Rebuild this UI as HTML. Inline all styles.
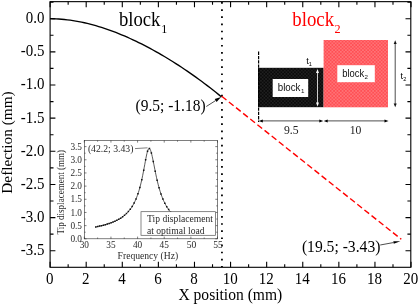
<!DOCTYPE html>
<html lang="en"><head><meta charset="utf-8"><title>Deflection plot</title>
<style>html,body{margin:0;padding:0;background:#fff;}body{width:420px;height:305px;overflow:hidden;}svg{display:block;filter:blur(0.35px);}.s{font-family:"Liberation Serif","DejaVu Serif",serif;}.a{font-family:"Liberation Sans","DejaVu Sans",sans-serif;}</style></head><body>
<svg width="420" height="305" viewBox="0 0 420 305">
<rect width="420" height="305" fill="#fff"/>
<defs><pattern id="hr" width="3.4" height="3.4" patternUnits="userSpaceOnUse"><rect width="3.4" height="3.4" fill="#ff4f54"/><rect x="0.3" y="0.3" width="1.1" height="1.1" fill="#ffa3a5"/><rect x="2" y="2" width="1.1" height="1.1" fill="#ffa3a5"/></pattern><pattern id="hb" width="3.4" height="3.4" patternUnits="userSpaceOnUse"><rect width="3.4" height="3.4" fill="#0a0a0a"/><rect x="0.3" y="0.3" width="1.1" height="1.1" fill="#3a3a3a"/><rect x="2" y="2" width="1.1" height="1.1" fill="#3a3a3a"/></pattern></defs>
<rect x="258.0" y="67.8" width="65.60" height="39.40" fill="url(#hb)"/>
<rect x="323.6" y="40.0" width="64.40" height="67.30" fill="url(#hr)"/>
<rect x="272.7" y="79" width="35.5" height="18" fill="#fff"/>
<rect x="337.3" y="65.2" width="37.5" height="17" fill="#fff"/>
<text class="a" font-size="10.2" fill="#111" textLength="22.7" lengthAdjust="spacingAndGlyphs" x="277.8" y="91.3">block</text>
<text class="a" font-size="6.2" fill="#111" x="301.0" y="93.0">1</text>
<text class="a" font-size="10.2" fill="#111" textLength="22.0" lengthAdjust="spacingAndGlyphs" x="342.2" y="77.3">block</text>
<text class="a" font-size="6.2" fill="#111" x="364.6" y="79.0">2</text>
<line x1="258.6" y1="51.6" x2="258.6" y2="122" stroke="#000" stroke-width="1.2" stroke-dasharray="3.3 1"/>
<line x1="261.8" y1="120.9" x2="320.3" y2="120.9" stroke="#000" stroke-width="0.7"/>
<path d="M258.8 120.9L262.8 119.4L262.8 122.4Z" fill="#000"/>
<path d="M323.3 120.9L319.3 119.4L319.3 122.4Z" fill="#000"/>
<line x1="326.7" y1="120.9" x2="385.5" y2="120.9" stroke="#000" stroke-width="0.7"/>
<path d="M323.7 120.9L327.7 119.4L327.7 122.4Z" fill="#000"/>
<path d="M388.5 120.9L384.5 119.4L384.5 122.4Z" fill="#000"/>
<line x1="317.5" y1="72" x2="317.5" y2="103.5" stroke="#fff" stroke-width="0.8"/>
<path d="M317.5 69L316.0 73L319.0 73Z" fill="#fff"/>
<path d="M317.5 106.5L316.0 102.5L319.0 102.5Z" fill="#fff"/>
<line x1="395.2" y1="43.0" x2="395.2" y2="104.4" stroke="#111" stroke-width="0.75"/>
<path d="M395.2 40.2L393.7 44.0L396.7 44.0Z" fill="#111"/>
<path d="M395.2 107.2L393.7 103.4L396.7 103.4Z" fill="#111"/>
<text class="s" font-size="11.7" fill="#222" text-anchor="middle" x="291.2" y="134.1">9.5</text>
<text class="s" font-size="11.7" fill="#222" text-anchor="middle" x="355.5" y="134.1">10</text>
<text class="a" x="306.3" y="64" font-size="9.2" fill="#000">t<tspan font-size="5.6" dy="1.5">1</tspan></text>
<text class="a" x="400.6" y="79" font-size="9.2" fill="#000">t<tspan font-size="5.6" dy="1.5">2</tspan></text>
<line x1="221.95" y1="2.11" x2="221.95" y2="267" stroke="#000" stroke-width="1.8" stroke-dasharray="1.7 5.43"/>
<rect x="50.1" y="1.65" width="360.70" height="265.65" fill="none" stroke="#000" stroke-width="1.1"/>
<path d="M50.1 2.12h3.4M410.8 2.12h-3.4M50.1 18.70h5.3M410.8 18.70h-5.3M50.1 35.27h3.4M410.8 35.27h-3.4M50.1 51.85h5.3M410.8 51.85h-5.3M50.1 68.42h3.4M410.8 68.42h-3.4M50.1 85.00h5.3M410.8 85.00h-5.3M50.1 101.58h3.4M410.8 101.58h-3.4M50.1 118.15h5.3M410.8 118.15h-5.3M50.1 134.72h3.4M410.8 134.72h-3.4M50.1 151.30h5.3M410.8 151.30h-5.3M50.1 167.87h3.4M410.8 167.87h-3.4M50.1 184.45h5.3M410.8 184.45h-5.3M50.1 201.02h3.4M410.8 201.02h-3.4M50.1 217.60h5.3M410.8 217.60h-5.3M50.1 234.17h3.4M410.8 234.17h-3.4M50.1 250.75h5.3M410.8 250.75h-5.3M50.10 267.3v-5.6M50.10 1.65v5.6M68.15 267.3v-3.0M68.15 1.65v3.0M86.19 267.3v-5.6M86.19 1.65v5.6M104.24 267.3v-3.0M104.24 1.65v3.0M122.29 267.3v-5.6M122.29 1.65v5.6M140.34 267.3v-3.0M140.34 1.65v3.0M158.38 267.3v-5.6M158.38 1.65v5.6M176.43 267.3v-3.0M176.43 1.65v3.0M194.48 267.3v-5.6M194.48 1.65v5.6M212.52 267.3v-3.0M212.52 1.65v3.0M230.57 267.3v-5.6M230.57 1.65v5.6M248.62 267.3v-3.0M248.62 1.65v3.0M266.66 267.3v-5.6M266.66 1.65v5.6M284.71 267.3v-3.0M284.71 1.65v3.0M302.76 267.3v-5.6M302.76 1.65v5.6M320.81 267.3v-3.0M320.81 1.65v3.0M338.85 267.3v-5.6M338.85 1.65v5.6M356.90 267.3v-3.0M356.90 1.65v3.0M374.95 267.3v-5.6M374.95 1.65v5.6M392.99 267.3v-3.0M392.99 1.65v3.0M411.04 267.3v-5.6M411.04 1.65v5.6" stroke="#000" stroke-width="1.1" fill="none"/>
<text class="s" font-size="15.8" textLength="18.6" lengthAdjust="spacingAndGlyphs" x="25.8" y="23.1">0.0</text>
<text class="s" font-size="15.8" textLength="23.6" lengthAdjust="spacingAndGlyphs" x="20.8" y="56.25">-0.5</text>
<text class="s" font-size="15.8" textLength="23.6" lengthAdjust="spacingAndGlyphs" x="20.8" y="89.4">-1.0</text>
<text class="s" font-size="15.8" textLength="23.6" lengthAdjust="spacingAndGlyphs" x="20.8" y="122.55">-1.5</text>
<text class="s" font-size="15.8" textLength="23.6" lengthAdjust="spacingAndGlyphs" x="20.8" y="155.7">-2.0</text>
<text class="s" font-size="15.8" textLength="23.6" lengthAdjust="spacingAndGlyphs" x="20.8" y="188.85">-2.5</text>
<text class="s" font-size="15.8" textLength="23.6" lengthAdjust="spacingAndGlyphs" x="20.8" y="222.0">-3.0</text>
<text class="s" font-size="15.8" textLength="23.6" lengthAdjust="spacingAndGlyphs" x="20.8" y="255.15">-3.5</text>
<text class="s" font-size="16" textLength="7.5" lengthAdjust="spacingAndGlyphs" x="45.95" y="284.4">0</text>
<text class="s" font-size="16" textLength="7.5" lengthAdjust="spacingAndGlyphs" x="82.04" y="284.4">2</text>
<text class="s" font-size="16" textLength="7.5" lengthAdjust="spacingAndGlyphs" x="118.14" y="284.4">4</text>
<text class="s" font-size="16" textLength="7.5" lengthAdjust="spacingAndGlyphs" x="154.23" y="284.4">6</text>
<text class="s" font-size="16" textLength="7.5" lengthAdjust="spacingAndGlyphs" x="190.33" y="284.4">8</text>
<text class="s" font-size="16" textLength="15.0" lengthAdjust="spacingAndGlyphs" x="222.67" y="284.4">10</text>
<text class="s" font-size="16" textLength="15.0" lengthAdjust="spacingAndGlyphs" x="258.76" y="284.4">12</text>
<text class="s" font-size="16" textLength="15.0" lengthAdjust="spacingAndGlyphs" x="294.86" y="284.4">14</text>
<text class="s" font-size="16" textLength="15.0" lengthAdjust="spacingAndGlyphs" x="330.95" y="284.4">16</text>
<text class="s" font-size="16" textLength="15.0" lengthAdjust="spacingAndGlyphs" x="367.05" y="284.4">18</text>
<text class="s" font-size="16" textLength="15.0" lengthAdjust="spacingAndGlyphs" x="403.14" y="284.4">20</text>
<text class="s" font-size="16" textLength="103.8" lengthAdjust="spacingAndGlyphs" x="178.45" y="299.5">X position (mm)</text>
<text class="s" font-size="15.3" text-anchor="middle" transform="translate(11.9,142.5) rotate(-90)">Deflection (mm)</text>
<text class="s" font-size="21.5" textLength="41.5" lengthAdjust="spacingAndGlyphs" x="118.9" y="26.3">block</text>
<text class="s" font-size="12.2" x="161.2" y="32.5">1</text>
<text class="s" font-size="21.5" fill="#f00" textLength="41.8" lengthAdjust="spacingAndGlyphs" x="292.3" y="25.9">block</text>
<text class="s" font-size="12.2" fill="#f00" x="334.6" y="32.5">2</text>
<path d="M50.10 18.70 L52.96 18.74 L55.81 18.84 L58.67 19.00 L61.53 19.21 L64.39 19.48 L67.24 19.80 L70.10 20.17 L72.96 20.59 L75.82 21.07 L78.67 21.59 L81.53 22.16 L84.39 22.78 L87.25 23.44 L90.10 24.16 L92.96 24.91 L95.82 25.71 L98.68 26.56 L101.53 27.44 L104.39 28.37 L107.25 29.34 L110.11 30.35 L112.96 31.40 L115.82 32.49 L118.68 33.62 L121.54 34.78 L124.39 35.99 L127.25 37.23 L130.11 38.50 L132.97 39.82 L135.82 41.17 L138.68 42.55 L141.54 43.97 L144.40 45.42 L147.25 46.90 L150.11 48.42 L152.97 49.98 L155.83 51.56 L158.68 53.18 L161.54 54.83 L164.40 56.52 L167.26 58.23 L170.11 59.98 L172.97 61.76 L175.83 63.58 L178.68 65.42 L181.54 67.30 L184.40 69.21 L187.26 71.15 L190.11 73.12 L192.97 75.12 L195.83 77.16 L198.69 79.23 L201.54 81.33 L204.40 83.46 L207.26 85.63 L210.12 87.83 L212.97 90.06 L215.83 92.32 L218.69 94.62 L221.55 96.96" fill="none" stroke="#000" stroke-width="1.35"/>
<line x1="221.75" y1="96.3" x2="401.3" y2="239.3" stroke="#f00" stroke-width="1.4" stroke-dasharray="6 3.12"/>
<text class="s" font-size="16.6" textLength="70.1" lengthAdjust="spacingAndGlyphs" x="135.5" y="111.3">(9.5; -1.18)</text>
<text class="s" font-size="16.6" textLength="78.5" lengthAdjust="spacingAndGlyphs" x="301.9" y="251.9">(19.5; -3.43)</text>
<line x1="206.30" y1="106.50" x2="215.63" y2="100.55" stroke="#000" stroke-width="0.7"/>
<path d="M221.20 97.00L216.55 101.98L214.72 99.11Z" fill="#000"/>
<line x1="380.20" y1="245.00" x2="393.51" y2="242.56" stroke="#000" stroke-width="0.7"/>
<path d="M400.40 241.30L393.74 243.79L393.29 241.33Z" fill="#000"/>
<rect x="84.3" y="140.4" width="133.20" height="98.40" fill="#fff" stroke="#2a2a2a" stroke-width="0.6"/>
<path d="M84.3 238.80h2.2M217.5 238.80h-2.2M84.3 232.21h1.3M217.5 232.21h-1.3M84.3 225.63h2.2M217.5 225.63h-2.2M84.3 219.04h1.3M217.5 219.04h-1.3M84.3 212.46h2.2M217.5 212.46h-2.2M84.3 205.87h1.3M217.5 205.87h-1.3M84.3 199.29h2.2M217.5 199.29h-2.2M84.3 192.70h1.3M217.5 192.70h-1.3M84.3 186.11h2.2M217.5 186.11h-2.2M84.3 179.53h1.3M217.5 179.53h-1.3M84.3 172.94h2.2M217.5 172.94h-2.2M84.3 166.36h1.3M217.5 166.36h-1.3M84.3 159.77h2.2M217.5 159.77h-2.2M84.3 153.19h1.3M217.5 153.19h-1.3M84.3 146.60h2.2M217.5 146.60h-2.2M84.30 238.8v-2.2M84.30 140.4v2.2M97.62 238.8v-1.3M97.62 140.4v1.3M110.94 238.8v-2.2M110.94 140.4v2.2M124.26 238.8v-1.3M124.26 140.4v1.3M137.58 238.8v-2.2M137.58 140.4v2.2M150.90 238.8v-1.3M150.90 140.4v1.3M164.22 238.8v-2.2M164.22 140.4v2.2M177.54 238.8v-1.3M177.54 140.4v1.3M190.86 238.8v-2.2M190.86 140.4v2.2M204.18 238.8v-1.3M204.18 140.4v1.3M217.50 238.8v-2.2M217.50 140.4v2.2" stroke="#2a2a2a" stroke-width="0.6" fill="none"/>
<text class="s" x="82" y="242.00" font-size="9.3" fill="#2a2a2a" text-anchor="end">0.0</text>
<text class="s" x="82" y="228.83" font-size="9.3" fill="#2a2a2a" text-anchor="end">0.5</text>
<text class="s" x="82" y="215.66" font-size="9.3" fill="#2a2a2a" text-anchor="end">1.0</text>
<text class="s" x="82" y="202.49" font-size="9.3" fill="#2a2a2a" text-anchor="end">1.5</text>
<text class="s" x="82" y="189.31" font-size="9.3" fill="#2a2a2a" text-anchor="end">2.0</text>
<text class="s" x="82" y="176.14" font-size="9.3" fill="#2a2a2a" text-anchor="end">2.5</text>
<text class="s" x="82" y="162.97" font-size="9.3" fill="#2a2a2a" text-anchor="end">3.0</text>
<text class="s" x="82" y="149.80" font-size="9.3" fill="#2a2a2a" text-anchor="end">3.5</text>
<text class="s" x="84.30" y="248.2" font-size="9.3" fill="#2a2a2a" text-anchor="middle">30</text>
<text class="s" x="110.94" y="248.2" font-size="9.3" fill="#2a2a2a" text-anchor="middle">35</text>
<text class="s" x="137.58" y="248.2" font-size="9.3" fill="#2a2a2a" text-anchor="middle">40</text>
<text class="s" x="164.22" y="248.2" font-size="9.3" fill="#2a2a2a" text-anchor="middle">45</text>
<text class="s" x="191.46" y="248.2" font-size="9.6" fill="#2a2a2a" text-anchor="middle">50</text>
<text class="s" x="218.10" y="248.2" font-size="9.6" fill="#2a2a2a" text-anchor="middle">55</text>
<text class="s" font-size="10" fill="#2a2a2a" textLength="60.6" lengthAdjust="spacingAndGlyphs" x="117.6" y="259.4">Frequency (Hz)</text>
<text class="s" font-size="9.3" fill="#2a2a2a" textLength="84.4" lengthAdjust="spacingAndGlyphs" transform="translate(64.3,234.4) rotate(-90)">Tip displacement (mm)</text>
<path d="M95.76 226.90 L96.29 226.79 L96.82 226.69 L97.35 226.58 L97.89 226.48 L98.42 226.37 L98.95 226.25 L99.48 226.14 L100.02 226.02 L100.55 225.90 L101.08 225.78 L101.62 225.65 L102.15 225.52 L102.68 225.39 L103.21 225.25 L103.75 225.12 L104.28 224.98 L104.81 224.83 L105.35 224.68 L105.88 224.53 L106.41 224.38 L106.94 224.22 L107.48 224.06 L108.01 223.89 L108.54 223.72 L109.08 223.54 L109.61 223.36 L110.14 223.18 L110.67 222.99 L111.21 222.79 L111.74 222.59 L112.27 222.38 L112.80 222.17 L113.34 221.95 L113.87 221.73 L114.40 221.50 L114.94 221.26 L115.47 221.02 L116.00 220.76 L116.53 220.50 L117.07 220.24 L117.60 219.96 L118.13 219.67 L118.67 219.38 L119.20 219.07 L119.73 218.76 L120.26 218.43 L120.80 218.09 L121.33 217.74 L121.86 217.38 L122.40 217.00 L122.93 216.61 L123.46 216.20 L123.99 215.78 L124.53 215.35 L125.06 214.89 L125.59 214.42 L126.12 213.92 L126.66 213.41 L127.19 212.87 L127.72 212.31 L128.26 211.73 L128.79 211.11 L129.32 210.47 L129.85 209.80 L130.39 209.10 L130.92 208.36 L131.45 207.59 L131.99 206.77 L132.52 205.91 L133.05 205.01 L133.58 204.06 L134.12 203.05 L134.65 201.99 L135.18 200.86 L135.72 199.67 L136.25 198.41 L136.78 197.08 L137.31 195.66 L137.85 194.15 L138.38 192.55 L138.91 190.85 L139.44 189.04 L139.98 187.11 L140.51 185.07 L141.04 182.90 L141.58 180.60 L142.11 178.17 L142.64 175.62 L143.17 172.95 L143.71 170.17 L144.24 167.31 L144.77 164.41 L145.31 161.52 L145.84 158.69 L146.37 156.02 L146.90 153.60 L147.44 151.53 L147.97 149.92 L148.50 148.86 L149.04 148.42 L149.57 148.61 L150.10 149.32 L150.63 150.53 L151.17 152.16 L151.70 154.17 L152.23 156.45 L152.76 158.95 L153.30 161.58 L153.83 164.28 L154.36 167.00 L154.90 169.70 L155.43 172.34 L155.96 174.91 L156.49 177.38 L157.03 179.74 L157.56 182.00 L158.09 184.15 L158.63 186.19 L159.16 188.12 L159.69 189.95 L160.22 191.67 L160.76 193.31 L161.29 194.85 L161.82 196.32 L162.36 197.70 L162.89 199.01 L163.42 200.25 L163.95 201.42 L164.49 202.54 L165.02 203.60 L165.55 204.60 L166.08 205.56 L166.62 206.47 L167.15 207.33 L167.68 208.16 L168.22 208.94 L168.75 209.70 L169.28 210.41 L169.81 211.10 L170.35 211.76 L170.88 212.39 L171.41 212.99 L171.95 213.57 L172.48 214.12 L173.01 214.66 L173.54 215.17 L174.08 215.66 L174.61 216.14" fill="none" stroke="#111" stroke-width="0.7"/>
<path d="M95.01 226.15h1.5v1.5h-1.5zM96.92 225.77h1.5v1.5h-1.5zM98.84 225.36h1.5v1.5h-1.5zM100.76 224.92h1.5v1.5h-1.5zM102.68 224.45h1.5v1.5h-1.5zM104.60 223.93h1.5v1.5h-1.5zM106.51 223.37h1.5v1.5h-1.5zM108.43 222.76h1.5v1.5h-1.5zM110.35 222.08h1.5v1.5h-1.5zM112.27 221.34h1.5v1.5h-1.5zM114.19 220.51h1.5v1.5h-1.5zM116.10 219.59h1.5v1.5h-1.5zM118.02 218.57h1.5v1.5h-1.5zM119.94 217.41h1.5v1.5h-1.5zM121.86 216.10h1.5v1.5h-1.5zM123.78 214.60h1.5v1.5h-1.5zM125.69 212.87h1.5v1.5h-1.5zM127.61 210.86h1.5v1.5h-1.5zM129.53 208.49h1.5v1.5h-1.5zM131.45 205.68h1.5v1.5h-1.5zM133.37 202.30h1.5v1.5h-1.5zM135.28 198.18h1.5v1.5h-1.5zM137.20 193.09h1.5v1.5h-1.5zM139.12 186.76h1.5v1.5h-1.5zM141.04 178.90h1.5v1.5h-1.5zM142.96 169.42h1.5v1.5h-1.5zM144.88 159.06h1.5v1.5h-1.5zM146.79 150.41h1.5v1.5h-1.5zM148.71 147.78h1.5v1.5h-1.5zM150.63 152.18h1.5v1.5h-1.5zM152.55 160.83h1.5v1.5h-1.5zM154.47 170.54h1.5v1.5h-1.5zM156.38 179.45h1.5v1.5h-1.5zM158.30 186.99h1.5v1.5h-1.5zM160.22 193.19h1.5v1.5h-1.5zM162.14 198.26h1.5v1.5h-1.5zM164.06 202.43h1.5v1.5h-1.5zM165.97 205.89h1.5v1.5h-1.5zM167.89 208.80h1.5v1.5h-1.5zM169.81 211.26h1.5v1.5h-1.5zM171.73 213.37h1.5v1.5h-1.5zM173.65 215.20h1.5v1.5h-1.5z" fill="#111"/>
<rect x="141" y="211.7" width="74.5" height="23.6" fill="#fff" stroke="#555" stroke-width="0.7"/>
<text class="s" x="147" y="222.3" font-size="9.6" fill="#2a2a2a">Tip displacement</text>
<text class="s" x="147" y="233.5" font-size="9.6" fill="#2a2a2a">at optimal load</text>
<text class="s" x="87.9" y="152.3" font-size="9.7" fill="#2a2a2a">(42.2; 3.43)</text>
<line x1="135" y1="148.6" x2="147.5" y2="147.8" stroke="#2a2a2a" stroke-width="0.6"/>
</svg></body></html>
